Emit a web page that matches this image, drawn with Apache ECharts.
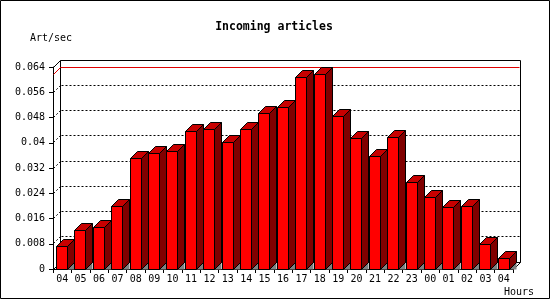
<!DOCTYPE html>
<html><head><meta charset="utf-8">
<script src="https://cdn.jsdelivr.net/npm/echarts@6/dist/echarts.min.js"></script>
<style>html,body{margin:0;padding:0;background:#fff}#c{width:550px;height:300px}</style>
</head><body><div id="c"></div>
<script>
const hours = ['04','05','06','07','08','09','10','11','12','13','14','15','16','17','18','19','20','21','22','23','00','01','02','03','04'];
const artPerSec = [0.0070,0.0123,0.0130,0.0199,0.0351,0.0366,0.0373,0.0436,0.0443,0.0401,0.0443,0.0494,0.0513,0.0607,0.0617,0.0484,0.0412,0.0358,0.0417,0.0275,0.0227,0.0196,0.0199,0.0079,0.0032];
const yTicks = [0,0.008,0.016,0.024,0.032,0.040,0.048,0.056,0.064];
const yTickLabels = ['0','0.008','0.016','0.024','0.032','0.04','0.048','0.056','0.064'];
const maxValue = Math.max.apply(null, artPerSec);

const DX = 7, DY = 7, BAR_W = 11;
const FONT = '"DejaVu Sans Mono", "Liberation Mono", monospace';
function crisp(v){ return Math.floor(v) + 0.5; }

const chart = echarts.init(document.getElementById('c'), null, {renderer:'canvas'});

function renderFrame(params, api){
  const band = api.size([1,0])[0];
  const n = hours.length;
  const xl = crisp(api.coord([0,0])[0] - band/2);
  const xr = crisp(api.coord([n-1,0])[0] + band/2);
  const y0 = crisp(api.coord([0,0])[1]);
  const ymaxTick = yTicks[yTicks.length-1];
  const yt = crisp(api.coord([0,ymaxTick])[1]);
  const black = {stroke:'#000', lineWidth:1, fill:null};
  const dotted = {stroke:'#000', lineWidth:1, lineDash:[2,2], fill:null};
  const ch = [];
  ch.push({type:'rect', shape:{x:xl+DX, y:yt-DY, width:xr-xl, height:y0-yt}, style:black});
  yTicks.forEach(function(v){
    if (v <= 0 || v >= ymaxTick) return;
    const y = crisp(api.coord([0,v])[1]);
    ch.push({type:'line', shape:{x1:xl+DX+1, y1:y-DY, x2:xr+DX-1, y2:y-DY}, style:dotted});
    ch.push({type:'line', shape:{x1:xl, y1:y, x2:xl+DX, y2:y-DY}, style:dotted});
  });
  ch.push({type:'line', shape:{x1:xl, y1:yt, x2:xl+DX, y2:yt-DY}, style:black});
  ch.push({type:'line', shape:{x1:xl, y1:y0, x2:xl+DX, y2:y0-DY}, style:black});
  ch.push({type:'line', shape:{x1:xr, y1:y0, x2:xr+DX, y2:y0-DY}, style:black});
  const ym = crisp(api.coord([0,maxValue])[1]);
  ch.push({type:'polyline', shape:{points:[[xl,ym],[xl+DX,ym-DY],[xr+DX-1,ym-DY]]}, style:{stroke:'#e00000', lineWidth:1, fill:null}});
  return {type:'group', children:ch};
}

function renderBar(params, api){
  const i = api.value(0), v = api.value(1);
  const band = api.size([1,0])[0];
  const c = api.coord([i, v]);
  const bx = c[0] - band/2;
  const L = Math.round(bx + 3) + 0.5;
  const W = BAR_W;
  const yTop = crisp(c[1]);
  const y0 = crisp(api.coord([i,0])[1]);
  const edge = {stroke:'#000', lineWidth:1};
  return {type:'group', children:[
    {type:'polygon', shape:{points:[[L+W,y0],[L+W+DX,y0-DY],[L+W+DX,y0]]}, style:{fill:'#808080'}},
    {type:'polygon', shape:{points:[[L+W,yTop],[L+W+DX,yTop-DY],[L+W+DX,y0-DY],[L+W,y0]]}, style:Object.assign({fill:'#800000'}, edge)},
    {type:'polygon', shape:{points:[[L,yTop],[L+DX,yTop-DY],[L+W+DX,yTop-DY],[L+W,yTop]]}, style:Object.assign({fill:'#c80000'}, edge)},
    {type:'rect', shape:{x:L, y:yTop, width:W, height:y0-yTop}, style:Object.assign({fill:'#ff0000'}, edge)}
  ]};
}

function txt(text, x, y, size, align, bold){
  return {type:'text', x:x, y:y, silent:true, style:{text:text, fontSize:size, fontFamily:FONT, fontWeight:bold?'bold':'normal', fill:'#000', textAlign:align, align:align, textVerticalAlign:'middle', verticalAlign:'middle'}};
}

chart.setOption({
  animation:false,
  backgroundColor:'#fff',
  grid:{left:53, top:67, width:460, height:202, containLabel:false},
  xAxis:{type:'category', data:hours, boundaryGap:true,
    axisLine:{show:true, lineStyle:{color:'#000', width:1}},
    axisTick:{show:true, alignWithLabel:false, interval:0, length:4, lineStyle:{color:'#000'}},
    axisLabel:{show:true, interval:0, fontSize:10, fontFamily:FONT, color:'#000', margin:5, lineHeight:10},
    splitLine:{show:false}},
  yAxis:{type:'value', min:0, max:0.064, interval:0.008,
    axisLine:{show:true, lineStyle:{color:'#000', width:1}},
    axisTick:{show:true, length:4, lineStyle:{color:'#000'}},
    axisLabel:{show:true, fontSize:10, fontFamily:FONT, color:'#000', margin:8,
      formatter:function(val){ for (let k=0;k<yTicks.length;k++){ if (Math.abs(yTicks[k]-val)<1e-9) return yTickLabels[k]; } return ''; }},
    splitLine:{show:false}},
  series:[
    {type:'custom', renderItem:renderFrame, data:[[0,0]], silent:true, z:1},
    {type:'custom', renderItem:renderBar, data:artPerSec.map(function(v,i){return [i,v];}), silent:true, z:3}
  ],
  graphic:[
    {type:'rect', silent:true, shape:{x:0.5, y:0.5, width:549, height:298}, style:{fill:null, stroke:'#000', lineWidth:1}},
    txt('Incoming articles', 274, 27.5, 11.5, 'center', true),
    txt('Art/sec', 30, 38, 10, 'left', false),
    txt('Hours', 504, 292, 10, 'left', false)
  ]
});
</script></body></html>
